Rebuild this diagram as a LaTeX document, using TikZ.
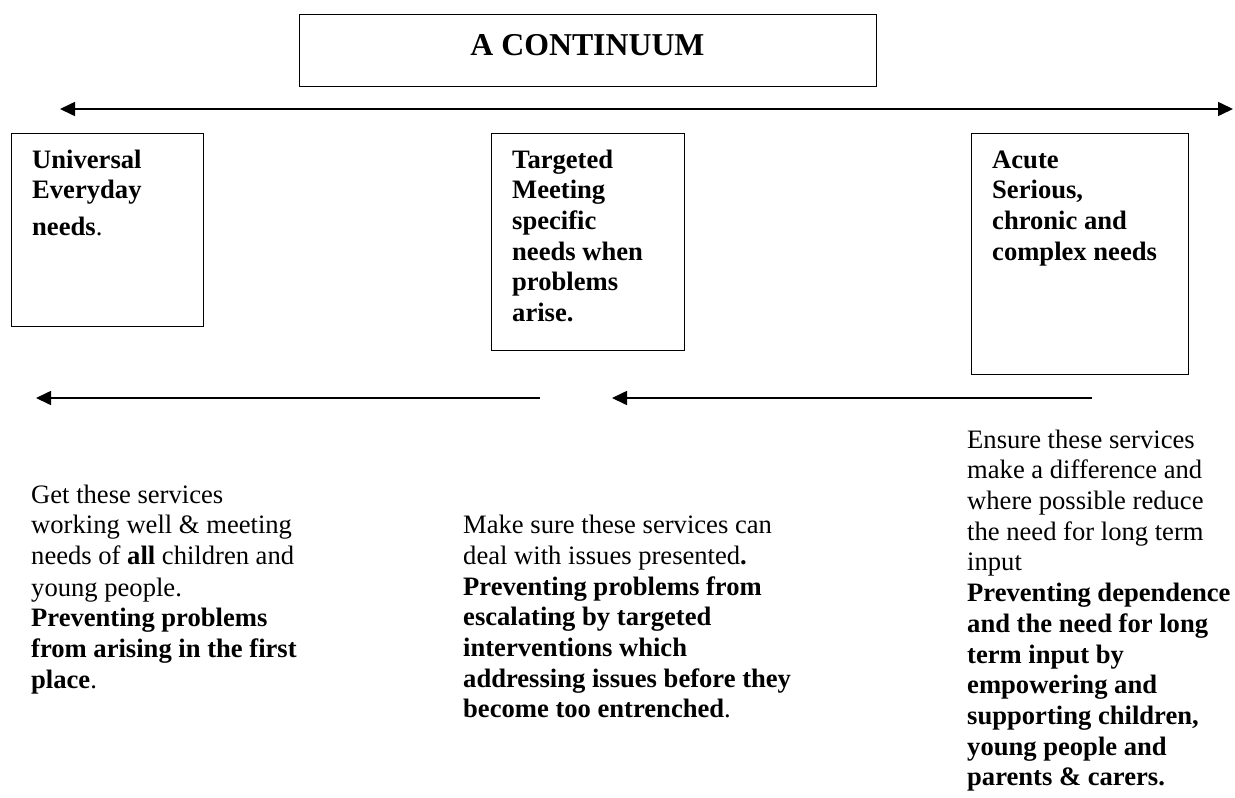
\documentclass[tikz,border=0pt]{standalone}
\usepackage{fontspec}
\setmainfont{Liberation Serif}
\usetikzlibrary{arrows.meta}
\begin{document}
\begin{tikzpicture}[x=1pt,y=-1pt,
  panel/.style={draw, line width=1.4pt, anchor=north west, inner sep=0pt},
  body/.style={anchor=north west, inner sep=0pt, align=left,
    font=\fontsize{26.6}{30.7}\selectfont},
  boldbody/.style={body, font=\fontsize{26.6}{30.7}\selectfont\bfseries},
  tip/.tip={Triangle[length=15pt,width=14pt]},
  arr/.style={line width=1.6pt, -tip},
  dblarr/.style={line width=1.6pt, tip-tip},
]
\useasboundingbox (0,0) rectangle (1235,798);

% heading
\node[panel, minimum width=577pt, minimum height=72pt] (titlebox) at (299,14) {};
\node[anchor=base, inner sep=0pt, font=\fontsize{31.8}{36}\selectfont\bfseries]
  (title) at (587.5,55) {A CONTINUUM};

% the continuum line
\coordinate (contL) at (60,109);
\coordinate (contR) at (1233,109);
\draw[dblarr] (contL) -- (contR);

% the three levels of need
\node[panel, minimum width=192pt, minimum height=193pt] (univbox) at (11,133) {};
\node[boldbody] (univtext) at (32,146.5)
  {\strut Universal\\Everyday\\[6pt]needs{\mdseries .}};

\node[panel, minimum width=193pt, minimum height=217pt] (targbox) at (491,133) {};
\node[boldbody] (targtext) at (512,146.5)
  {\strut Targeted\\Meeting\\specific\\needs when\\problems\\arise.};

\node[panel, minimum width=217pt, minimum height=241pt] (acutebox) at (971,133) {};
\node[boldbody] (acutetext) at (992,146.5)
  {\strut Acute\\Serious,\\chronic and\\complex needs};

% arrows pointing back towards earlier intervention
\coordinate (backAs) at (540,398);
\coordinate (backAe) at (36,398);
\draw[arr] (backAs) -- (backAe);
\coordinate (backBs) at (1092,398);
\coordinate (backBe) at (612,398);
\draw[arr] (backBs) -- (backBe);

% aims for each level
\node[body] (univaim) at (31,481.5)
  {\strut Get these services\\working well \& meeting\\needs of \textbf{all} children and\\[1pt]young people.\\
   \textbf{Preventing problems}\\\textbf{from arising in the first}\\\textbf{place}.};

\node[body] (targaim) at (463,512)
  {\strut Make sure these services can\\deal with issues presented\textbf{.}\\
   \textbf{Preventing problems from}\\\textbf{escalating by targeted}\\\textbf{interventions which}\\
   \textbf{addressing issues before they}\\\textbf{become too entrenched}.};

\node[body] (acuteaim) at (967,426.5)
  {\strut Ensure these services\\make a difference and\\where possible reduce\\the need for long term\\input\\
   \textbf{Preventing dependence}\\\textbf{and the need for long}\\\textbf{term input by}\\
   \textbf{empowering and}\\\textbf{supporting children,}\\\textbf{young people and}\\\textbf{parents \& carers.}};
\end{tikzpicture}
\end{document}
